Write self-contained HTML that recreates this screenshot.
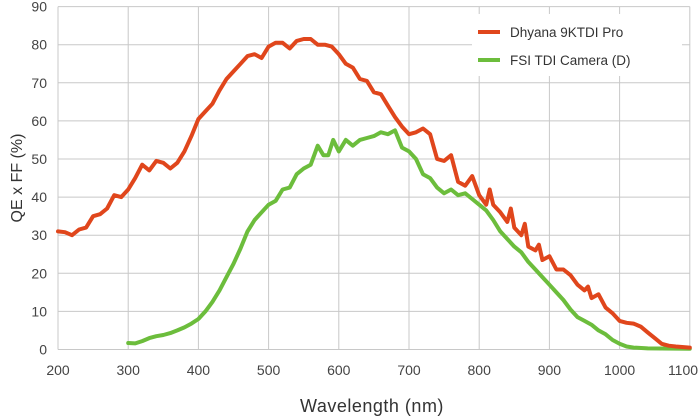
<!DOCTYPE html>
<html><head><meta charset="utf-8"><style>
body{margin:0;background:#fff;}
svg{display:block;font-family:"Liberation Sans",sans-serif;}
</style></head><body>
<svg id="s" width="700" height="420" xmlns="http://www.w3.org/2000/svg">
<g id="grid" stroke="#c8c8c8" stroke-width="1"></g>
<g id="labels" fill="#444" font-size="14"></g>
<text x="372" y="412" text-anchor="middle" font-size="18" fill="#333" letter-spacing="0.5">Wavelength (nm)</text>
<text transform="translate(22,178) rotate(-90)" text-anchor="middle" font-size="16" fill="#333">QE x FF (%)</text>
<polyline id="g" fill="none" stroke="#6cbd3c" stroke-width="4" stroke-linejoin="round" stroke-linecap="round"/>
<polyline id="r" fill="none" stroke="#e0461c" stroke-width="4" stroke-linejoin="round" stroke-linecap="round"/>
<rect x="472" y="14" width="210" height="62" fill="#fff"/>
<line x1="478" y1="32" x2="500" y2="32" stroke="#e0461c" stroke-width="4"/>
<text x="510" y="37" font-size="13.5" fill="#333">Dhyana 9KTDI Pro</text>
<line x1="478" y1="60" x2="500" y2="60" stroke="#6cbd3c" stroke-width="4"/>
<text x="510" y="65" font-size="13.5" fill="#333">FSI TDI Camera (D)</text>
</svg>
<script>
const X=n=>58+(n-200)*0.702, Y=v=>349.5-v*3.81;
const ns="http://www.w3.org/2000/svg";
const grid=document.getElementById('grid'),lab=document.getElementById('labels');
function el(p,tag,a,t){const e=document.createElementNS(ns,tag);for(const k in a)e.setAttribute(k,a[k]);if(t!==undefined)e.textContent=t;p.appendChild(e);}
for(let n=200;n<=1100;n+=100){el(grid,'line',{x1:X(n),y1:Y(0),x2:X(n),y2:Y(90)});el(lab,'text',{x:n==1100?683:X(n),y:375,'text-anchor':'middle'},n);}
for(let v=0;v<=90;v+=10){el(grid,'line',{x1:X(200),y1:Y(v),x2:X(1100),y2:Y(v)});el(lab,'text',{x:47,y:Y(v)+5,'text-anchor':'end'},v);}
const r=[[200,31],[210,30.8],[220,30],[230,31.5],[240,32],[250,35],[260,35.5],[270,37],[280,40.5],[290,40],[300,42],[310,45],[320,48.5],[330,47],[340,49.5],[350,49],[360,47.5],[370,49],[380,52],[390,56],[400,60.5],[410,62.5],[420,64.5],[430,68],[440,71],[450,73],[460,75],[470,77],[480,77.5],[490,76.5],[500,79.5],[510,80.5],[520,80.5],[530,79],[540,81],[550,81.5],[560,81.5],[570,80],[580,80],[590,79.5],[600,77.5],[610,75],[620,74],[630,71],[640,70.5],[650,67.5],[660,67],[670,64],[680,61],[690,58.5],[700,56.5],[710,57],[720,58],[730,56.5],[740,50],[750,49.5],[760,51],[770,44],[780,43],[790,45.5],[800,40.5],[810,38],[815,42],[820,38],[830,36],[840,33.5],[845,37],[850,32],[860,30],[865,33],[870,27],[880,26],[885,27.5],[890,23.5],[900,24.5],[910,21],[920,21],[930,19.5],[940,17],[950,15.5],[955,16.5],[960,13.5],[970,14.5],[980,11],[990,9.5],[1000,7.5],[1010,7],[1020,6.8],[1030,6],[1040,4.5],[1050,3],[1060,1.5],[1070,1],[1080,0.8],[1100,0.5]];
const g=[[300,1.7],[310,1.6],[320,2.2],[330,3],[340,3.5],[350,3.8],[360,4.3],[370,5],[380,5.8],[390,6.8],[400,8],[410,10],[420,12.5],[430,15.5],[440,19],[450,22.5],[460,26.5],[470,31],[480,34],[490,36],[500,38],[510,39],[520,42],[530,42.5],[540,46],[550,47.5],[560,48.5],[570,53.5],[578,51],[585,51],[592,55],[600,52],[610,55],[620,53.5],[630,55],[640,55.5],[650,56],[660,57],[670,56.5],[680,57.5],[690,53],[700,52],[710,50],[720,46],[730,45],[740,42.5],[750,41],[760,42],[770,40.5],[780,41],[790,39.5],[800,38],[810,36.5],[820,34],[830,31],[840,29],[850,27],[860,25.5],[870,23],[880,21],[890,19],[900,17],[910,15],[920,13],[930,10.5],[940,8.5],[950,7.5],[960,6.5],[970,5],[980,4],[990,2.5],[1000,1.5],[1010,0.8],[1020,0.5],[1040,0.3],[1100,0.2]];
const pts=a=>a.map(p=>X(p[0]).toFixed(1)+','+Y(p[1]).toFixed(1)).join(' ');
document.getElementById('r').setAttribute('points',pts(r));
document.getElementById('g').setAttribute('points',pts(g));
</script>
</body></html>
